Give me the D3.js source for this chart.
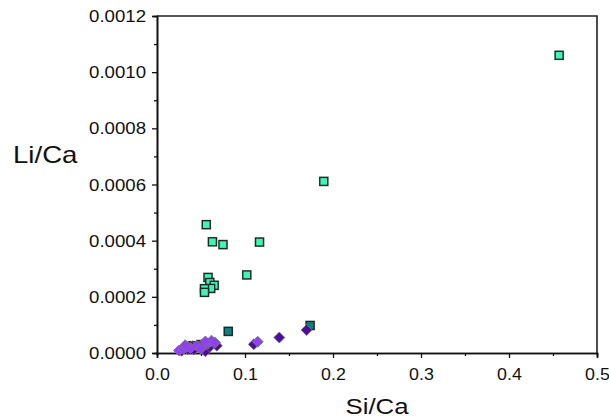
<!DOCTYPE html>
<html>
<head>
<meta charset="utf-8">
<script src="https://cdn.jsdelivr.net/npm/d3@7"></script>
<style>
  body { margin: 0; background: #fff; }
  text { font-family: Arial, "Liberation Sans", sans-serif; fill: #111; }
</style>
</head>
<body>
<svg id="chart" width="609" height="419"></svg>
<script>
// data: [Si/Ca, Li/Ca]
var lightSquares = [
  [0.457, 0.00106], [0.1895, 0.000611], [0.056, 0.000457], [0.063, 0.000396],
  [0.1165, 0.000395], [0.075, 0.000386], [0.102, 0.000278], [0.058, 0.000269],
  [0.060, 0.000251], [0.065, 0.000241], [0.061, 0.000230], [0.054, 0.000229],
  [0.054, 0.000216]
];
var tealSquares = [
  [0.081, 0.000077], [0.174, 0.000098], [0.050, 0.000030], [0.041, 0.000026]
];
var darkDiamonds = [
  [0.028, 0.000008], [0.035, 0.000014], [0.042, 0.000012], [0.048, 0.000019],
  [0.055, 0.000006], [0.060, 0.000022], [0.068, 0.000026], [0.040, 0.000024],
  [0.052, 0.000031], [0.110, 0.000031], [0.139, 0.000055], [0.170, 0.000082]
];
var lightDiamonds = [
  [0.025, 0.000009], [0.030, 0.000015], [0.034, 0.000022], [0.038, 0.000018],
  [0.045, 0.000026], [0.050, 0.000015], [0.058, 0.000034], [0.062, 0.000044],
  [0.066, 0.000037], [0.032, 0.000028], [0.055, 0.000041], [0.1145, 0.000040]
];
var xTicks = [0, 0.1, 0.2, 0.3, 0.4, 0.5];
var yTicks = [0, 0.0002, 0.0004, 0.0006, 0.0008, 0.0010, 0.0012];

var svg = d3.select("#chart");
var plotL = 157, plotR = 597, plotT = 16, plotB = 353;

var x = d3.scaleLinear().domain([0, 0.5]).range([plotL, plotR]);
var y = d3.scaleLinear().domain([0, 0.0012]).range([plotB, plotT]);

// frame (top and right)
svg.append("path")
  .attr("d", "M" + plotL + "," + plotT + "H" + plotR + "V" + plotB)
  .attr("fill", "none")
  .attr("stroke", "#222")
  .attr("stroke-width", 1.6);

// minor ticks
var xMinor = d3.axisBottom(x).tickValues(d3.range(0.05, 0.5, 0.1)).tickSize(3).tickFormat("");
var yMinor = d3.axisLeft(y).tickValues(d3.range(0.0001, 0.0012, 0.0002)).tickSize(3).tickFormat("");
svg.append("g").attr("transform", "translate(0," + plotB + ")").call(xMinor);
svg.append("g").attr("transform", "translate(" + plotL + ",0)").call(yMinor);

var xAxis = svg.append("g")
  .attr("transform", "translate(0," + plotB + ")")
  .call(d3.axisBottom(x).tickValues(xTicks).tickSize(5).tickPadding(4)
    .tickFormat(d3.format(".1f")));
var yAxis = svg.append("g")
  .attr("transform", "translate(" + plotL + ",0)")
  .call(d3.axisLeft(y).tickValues(yTicks).tickSize(5).tickPadding(6)
    .tickFormat(d3.format(".4f")));

svg.selectAll(".domain").attr("stroke", "#111").attr("stroke-width", 1.6);
svg.selectAll(".tick line").attr("stroke", "#111").attr("stroke-width", 1.3);

// text in the picture is stretched sideways a bit
xAxis.selectAll("text")
  .attr("font-size", 15.8)
  .attr("fill", "#1a1a1a")
  .attr("y", 0)
  .attr("dy", null)
  .attr("transform", "translate(0,27) scale(1.13,1)");
yAxis.selectAll("text")
  .attr("font-size", 15.8)
  .attr("fill", "#1a1a1a")
  .attr("x", 0)
  .attr("dy", "0.35em")
  .attr("transform", "translate(-11,0) scale(1.18,1)");
svg.selectAll("g").attr("font-family", null).attr("font-size", null);

svg.append("text")
  .attr("transform", "translate(13,163) scale(1.2,1)")
  .attr("font-size", 23)
  .text("Li/Ca");
svg.append("text")
  .attr("transform", "translate(377,414) scale(1.2,1)")
  .attr("text-anchor", "middle")
  .attr("font-size", 21.5)
  .text("Si/Ca");

function squares(data, fill, stroke) {
  var g = svg.append("g");
  g.selectAll("rect.sh").data(data).join("rect")
    .attr("class", "sh")
    .attr("x", d => x(d[0]) - 5)
    .attr("y", d => y(d[1]) - 5)
    .attr("width", 10).attr("height", 10)
    .attr("fill", "#999").attr("opacity", 0.45);
  g.selectAll("rect.pt").data(data).join("rect")
    .attr("class", "pt")
    .attr("x", d => x(d[0]) - 4)
    .attr("y", d => y(d[1]) - 4)
    .attr("width", 8).attr("height", 8)
    .attr("fill", fill)
    .attr("stroke", stroke)
    .attr("stroke-width", 1.4);
}

function diamonds(data, fill) {
  var g = svg.append("g");
  var sym = d3.symbol().type(d3.symbolSquare).size(60);
  g.selectAll("path").data(data).join("path")
    .attr("d", sym)
    .attr("transform", d => "translate(" + x(d[0]) + "," + y(d[1]) + ") rotate(45)")
    .attr("fill", fill)
    .attr("stroke", "#777")
    .attr("stroke-width", 0.8);
}

squares(lightSquares, "#3ff5b6", "#1d2b26");
squares(tealSquares, "#0a8282", "#1a2a2a");
diamonds(darkDiamonds, "#4e0c9c");
diamonds(lightDiamonds, "#9040f0");
</script>
</body>
</html>
